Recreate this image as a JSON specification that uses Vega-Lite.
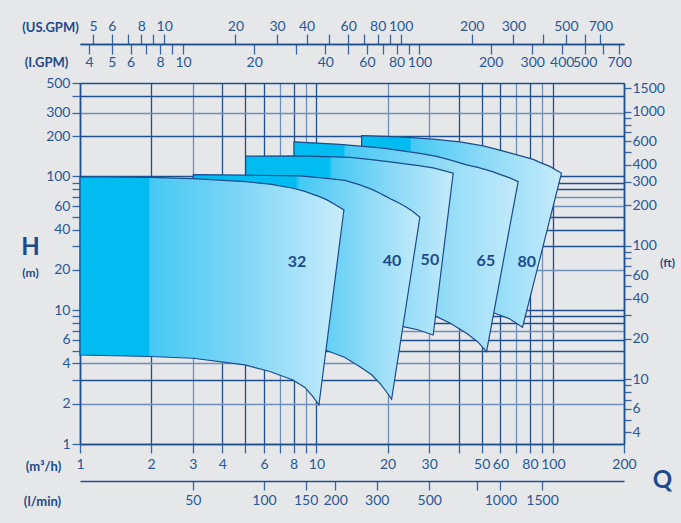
{
  "$schema": "https://vega.github.io/schema/vega-lite/v6.json",
  "width": 544,
  "height": 361,
  "autosize": {"type": "none"},
  "padding": {"left": 80, "top": 83, "right": 57, "bottom": 79},
  "background": "#e6e7e9",
  "config": {
    "view": {"stroke": null},
    "axis": {
      "labelFont": "Lato", "labelFontSize": 14, "labelColor": "#2a5797",
      "titleFont": "Lato", "titleColor": "#1d4a8c", "titleFontWeight": "bold",
      "tickColor": "#3a65a2", "tickWidth": 1.3,
      "domainColor": "#1f4f8f", "domainWidth": 1.6,
      "labelOverlap": false, "labelFlush": false,
      "titleAngle": 0, "titleAlign": "center", "titleBaseline": "middle", "titlePadding": 0,
      "gridWidth": 1.3, "gridOpacity": 1
    }
  },
  "datasets": {
    "p32": [
      {"q": 1, "top": 99.8, "bot": 4.63},
      {"q": 1.977, "top": 98.5, "bot": 4.51},
      {"q": 3.006, "top": 96.45, "bot": 4.375},
      {"q": 4.985, "top": 91.6, "bot": 3.9},
      {"q": 6.36, "top": 87.6, "bot": 3.486},
      {"q": 7.958, "top": 81.7, "bot": 3.011},
      {"q": 8.94, "top": 77.35, "bot": 2.646},
      {"q": 9.665, "top": 73.5, "bot": 2.258},
      {"q": 10.246, "top": 71.0, "bot": 1.957},
      {"q": 11.079, "top": 66.85, "bot": 5.735},
      {"q": 11.977, "top": 61.85, "bot": 16.8},
      {"q": 13.07, "top": 56.26, "bot": 56.26}
    ],
    "p40": [
      {"q": 3.014, "top": 103.3, "bot": 6.31},
      {"q": 4.985, "top": 102.4, "bot": 6.1},
      {"q": 8.515, "top": 101.0, "bot": 5.595},
      {"q": 11.047, "top": 96.8, "bot": 5.005},
      {"q": 13.2, "top": 93.5, "bot": 4.436},
      {"q": 15.28, "top": 86.5, "bot": 3.786},
      {"q": 17.17, "top": 80.1, "bot": 3.281},
      {"q": 18.56, "top": 75.0, "bot": 2.844},
      {"q": 19.67, "top": 71.0, "bot": 2.491},
      {"q": 20.8, "top": 67.4, "bot": 2.16},
      {"q": 22.55, "top": 62.9, "bot": 5.418},
      {"q": 24.07, "top": 58.95, "bot": 11.38},
      {"q": 25.59, "top": 54.8, "bot": 22.86},
      {"q": 27.39, "top": 49.6, "bot": 49.6}
    ],
    "p50": [
      {"q": 5.019, "top": 141.9, "bot": 8.757},
      {"q": 8.515, "top": 142.6, "bot": 8.608},
      {"q": 13.86, "top": 139.0, "bot": 8.389},
      {"q": 16.35, "top": 134.7, "bot": 8.246},
      {"q": 20.46, "top": 128.6, "bot": 7.927},
      {"q": 23.28, "top": 124.7, "bot": 7.54},
      {"q": 26.61, "top": 121.1, "bot": 7.184},
      {"q": 31.18, "top": 116.0, "bot": 6.535},
      {"q": 34.27, "top": 111.1, "bot": 25.21},
      {"q": 37.89, "top": 105.8, "bot": 105.8}
    ],
    "p65": [
      {"q": 8.035, "top": 181.5, "bot": 10.05},
      {"q": 12.57, "top": 173.9, "bot": 9.88},
      {"q": 19.16, "top": 162.8, "bot": 9.63},
      {"q": 27.39, "top": 148.9, "bot": 9.3},
      {"q": 32.24, "top": 141.4, "bot": 8.955},
      {"q": 36.69, "top": 133.1, "bot": 8.037},
      {"q": 43.16, "top": 122.1, "bot": 6.73},
      {"q": 48.18, "top": 117.0, "bot": 5.795},
      {"q": 52.44, "top": 112.1, "bot": 4.9},
      {"q": 55.92, "top": 108.2, "bot": 9.033},
      {"q": 59.68, "top": 103.7, "bot": 16.82},
      {"q": 65.79, "top": 97.6, "bot": 42.49},
      {"q": 71.33, "top": 91.6, "bot": 91.6}
    ],
    "p80": [
      {"q": 15.53, "top": 202.2, "bot": 10.96},
      {"q": 22.55, "top": 197.8, "bot": 10.77},
      {"q": 31.18, "top": 190.1, "bot": 10.58},
      {"q": 40.45, "top": 181.5, "bot": 10.31},
      {"q": 50.74, "top": 169.4, "bot": 9.966},
      {"q": 56.86, "top": 160.9, "bot": 9.5},
      {"q": 65.79, "top": 150.2, "bot": 8.608},
      {"q": 74.45, "top": 141.4, "bot": 7.463},
      {"q": 82.55, "top": 134.3, "bot": 15.36},
      {"q": 88.13, "top": 127.5, "bot": 24.19},
      {"q": 97.12, "top": 119.0, "bot": 47.77},
      {"q": 108.8, "top": 105.8, "bot": 105.8}
    ],
    "labels": [
      {"label": "32", "q": 8.27, "h": 22.97},
      {"label": "40", "q": 20.86, "h": 23.4},
      {"label": "50", "q": 30.2, "h": 23.8},
      {"label": "65", "q": 52.1, "h": 23.4},
      {"label": "80", "q": 77.6, "h": 23.1}
    ]
  },
  "layer": [
    {
      "data": {"name": "p80"},
      "mark": {"type": "area", "interpolate": "linear", "stroke": "#1c4b8c", "strokeWidth": 1.2,
        "fill": {"gradient": "linear", "x1": 0, "y1": 0, "x2": 1, "y2": 0,
          "stops": [{"offset": 0, "color": "#00bcf0"}, {"offset": 0.24, "color": "#00bcf0"}, {"offset": 0.25, "color": "#45c9f4"}, {"offset": 0.6, "color": "#8ad9f7"}, {"offset": 1, "color": "#c5ebfa"}]}},
      "encoding": {
        "x": {"field": "q", "type": "quantitative", "scale": {"type": "log", "domain": [1, 200], "nice": false},
          "axis": {"orient": "bottom", "values": [1,2,3,4,5,6,7,8,9,10,20,30,40,50,60,70,80,90,100,200],
            "labelExpr": "indexof([1,2,3,4,6,8,10,20,30,50,60,80,100,200], datum.value) >= 0 ? format(datum.value, 'd') : ''",
            "tickSize": 9, "labelPadding": 4, "grid": true,
            "gridColor": {"condition": {"test": "indexof([3,7,9,20,30,70,90], datum.value) >= 0", "value": "#6e90ba"}, "value": "#1f4f8f"},
            "title": "(m³/h)", "titleX": -37, "titleY": 22, "titleFontSize": 13}},
        "y": {"field": "top", "type": "quantitative", "scale": {"type": "log", "domain": [1, 500], "nice": false},
          "axis": {"orient": "left", "values": [1,2,3,4,5,6,7,8,9,10,20,30,40,50,60,70,80,90,100,200,300,400,500],
            "labelExpr": "indexof([1,2,4,6,10,20,40,60,100,200,300,500], datum.value) >= 0 ? format(datum.value, 'd') : ''",
            "tickSize": 8, "labelPadding": 2, "grid": true,
            "gridColor": {"condition": {"test": "indexof([2,4,7,20,60,70,300], datum.value) >= 0", "value": "#6e90ba"}, "value": "#1f4f8f"},
            "title": "H", "titleX": -50, "titleY": 164, "titleFontSize": 24}},
        "y2": {"field": "bot"}
      }
    },
    {
      "data": {"name": "p65"},
      "mark": {"type": "area", "interpolate": "linear", "stroke": "#1c4b8c", "strokeWidth": 1.2,
        "fill": {"gradient": "linear", "x1": 0, "y1": 0, "x2": 1, "y2": 0,
          "stops": [{"offset": 0, "color": "#00bcf0"}, {"offset": 0.22, "color": "#00bcf0"}, {"offset": 0.23, "color": "#45c9f4"}, {"offset": 0.6, "color": "#88d8f7"}, {"offset": 1, "color": "#c3eafa"}]}},
      "encoding": {
        "x": {"field": "q", "type": "quantitative",
          "axis": {"orient": "bottom", "offset": 37, "values": [3,6,9,12,18,30,48,60,90],
            "labelExpr": "datum.value == 48 ? '' : format(round(datum.value * 50 / 3), 'd')",
            "tickSize": 9, "labelPadding": 3, "grid": false,
            "title": "(l/min)", "titleX": -38, "titleY": 20, "titleFontSize": 13}},
        "y": {"field": "top", "type": "quantitative",
          "axis": {"orient": "right", "values": [1.2192,1.524,1.8288,2.1336,2.4384,2.7432,3.048,6.096,9.144,12.192,15.24,18.288,21.336,24.384,27.432,30.48,60.96,91.44,121.92,152.4,182.88,213.36,243.84,274.32,304.8,457.2],
            "labelExpr": "indexof([4,6,10,20,40,60,100,200,300,400,600,1000,1500], round(datum.value / 0.3048)) >= 0 ? format(round(datum.value / 0.3048), 'd') : ''",
            "tickSize": 7, "labelPadding": 1, "grid": false,
            "title": "(ft)", "titleX": 43, "titleY": 179, "titleFontSize": 12}},
        "y2": {"field": "bot"}
      }
    },
    {
      "data": {"name": "p50"},
      "mark": {"type": "area", "interpolate": "linear", "stroke": "#1c4b8c", "strokeWidth": 1.2,
        "fill": {"gradient": "linear", "x1": 0, "y1": 0, "x2": 1, "y2": 0,
          "stops": [{"offset": 0, "color": "#00bcf0"}, {"offset": 0.4, "color": "#00bcf0"}, {"offset": 0.42, "color": "#45c9f4"}, {"offset": 0.7, "color": "#88d8f7"}, {"offset": 1, "color": "#c3eafa"}]}},
      "encoding": {
        "x": {"field": "q", "type": "quantitative",
          "axis": {"orient": "top", "offset": 39, "values": [1.135624,1.362748,1.589873,1.816998,2.044122,2.271247,4.542494,6.813741,9.084988,11.356235,13.627482,15.898729,18.169976,20.441223,22.71247,45.42494,68.13741,90.84988,113.56235,136.27482,158.98729],
            "labelExpr": "indexof([5,6,8,10,20,30,40,60,80,100,200,300,500,700], round(datum.value / 0.2271247)) >= 0 ? format(round(datum.value / 0.2271247), 'd') : ''",
            "tickSize": 10, "labelPadding": 1, "grid": false,
            "title": "(US.GPM)", "titleX": -30, "titleY": -17, "titleFontSize": 13}},
        "y": {"field": "top", "type": "quantitative",
          "axis": {"orient": "left", "domain": false, "ticks": false, "labels": false, "grid": false,
            "title": "(m)", "titleX": -50, "titleY": 189, "titleFontSize": 12}},
        "y2": {"field": "bot"}
      }
    },
    {
      "data": {"name": "p40"},
      "mark": {"type": "area", "interpolate": "linear", "stroke": "#1c4b8c", "strokeWidth": 1.2,
        "fill": {"gradient": "linear", "x1": 0, "y1": 0, "x2": 1, "y2": 0,
          "stops": [{"offset": 0, "color": "#00bcf0"}, {"offset": 0.45, "color": "#00bcf0"}, {"offset": 0.47, "color": "#45c9f4"}, {"offset": 0.75, "color": "#8ad9f7"}, {"offset": 1, "color": "#c2eafa"}]}},
      "encoding": {
        "x": {"field": "q", "type": "quantitative",
          "axis": {"orient": "bottom", "offset": -400, "values": [1.091062,1.363827,1.636592,1.909358,2.182123,2.454889,2.727654,5.455308,8.182962,10.910616,13.63827,16.365924,19.093578,21.821232,24.548886,27.27654,54.55308,81.82962,109.10616,136.3827,163.65924,190.93578],
            "labelExpr": "indexof([4,5,6,8,10,20,40,60,80,100,200,300,400,500,700], round(datum.value / 0.2727654)) >= 0 ? format(round(datum.value / 0.2727654), 'd') : ''",
            "tickSize": 10, "labelPadding": 1, "grid": false,
            "title": "(I.GPM)", "titleX": -34, "titleY": 18, "titleFontSize": 13}},
        "y": {"field": "top", "type": "quantitative", "axis": null},
        "y2": {"field": "bot"}
      }
    },
    {
      "data": {"name": "p32"},
      "mark": {"type": "area", "interpolate": "linear", "stroke": "#1c4b8c", "strokeWidth": 1.2,
        "fill": {"gradient": "linear", "x1": 0, "y1": 0, "x2": 1, "y2": 0,
          "stops": [{"offset": 0, "color": "#00bcf0"}, {"offset": 0.26, "color": "#00bcf0"}, {"offset": 0.265, "color": "#45c9f4"}, {"offset": 0.6, "color": "#7dd5f6"}, {"offset": 1, "color": "#c8ecfb"}]}},
      "encoding": {
        "x": {"field": "q", "type": "quantitative",
          "axis": {"orient": "bottom", "domain": false, "ticks": false, "labels": false, "grid": false,
            "title": "Q", "titleX": 582, "titleY": 36, "titleFontSize": 24}},
        "y": {"field": "top", "type": "quantitative", "axis": null},
        "y2": {"field": "bot"}
      }
    },
    {
      "data": {"name": "labels"},
      "mark": {"type": "text", "font": "Lato", "fontWeight": "bold", "fontSize": 16, "color": "#1d4a8a"},
      "encoding": {
        "x": {"field": "q", "type": "quantitative", "axis": null},
        "y": {"field": "h", "type": "quantitative", "axis": null},
        "text": {"field": "label"}
      }
    }
  ],
  "resolve": {"axis": {"x": "independent", "y": "independent"}}
}
